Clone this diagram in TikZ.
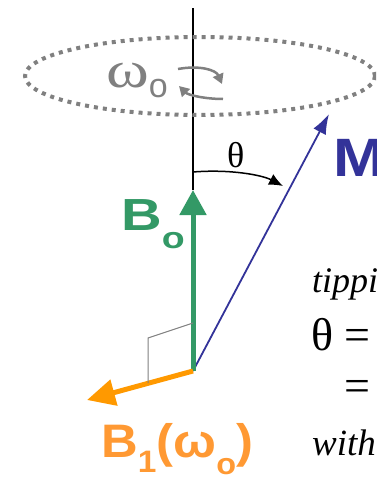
\documentclass[tikz,border=0pt]{standalone}
\usepackage{fontspec}
\setmainfont{Liberation Serif}
\newfontfamily\arialfont{Liberation Sans}
\usetikzlibrary{arrows.meta}
\definecolor{bgreen}{HTML}{339966}
\definecolor{borange}{HTML}{FF9900}
\definecolor{blabel}{HTML}{FF9933}
\definecolor{mblue}{HTML}{333399}
\definecolor{rgray}{HTML}{808080}

\begin{document}
\begin{tikzpicture}[x=1pt,y=-1pt,>=Latex]
  \useasboundingbox (0,0) rectangle (376,477);
  \clip (0,0) rectangle (376,477);
  \coordinate (O) at (193,371);
  \coordinate (top) at (193,8);
  \coordinate (Btip) at (193,190);
  \coordinate (Mtip) at (329,114);
  \coordinate (Ftip) at (87,400);
  % axis and precession cone
  \draw[line width=2pt] (top) -- (Btip);
  \draw[rgray,line width=4pt,dash pattern=on 4pt off 5pt] (200,76) ellipse [x radius=175,y radius=39];
  \coordinate (r1a) at (178,69);
  \coordinate (r1b) at (222,84);
  \coordinate (r2a) at (223,99);
  \coordinate (r2b) at (179,86);
  \draw[rgray,line width=2.5pt,-{Triangle[length=10pt,width=11pt]}] (r1a) .. controls (200,65) and (216,70) .. (r1b);
  \draw[rgray,line width=2.5pt,-{Triangle[length=10pt,width=11pt]}] (r2a) .. controls (205,99) and (188,95) .. (r2b);
  \node[rgray,anchor=base west,inner sep=0] (wlab) at (106,87)
    {\scalebox{1.25}[1]{\fontsize{52}{52}\selectfont ω}\raisebox{-10pt}{\arialfont\fontsize{34}{34}\selectfont o}};
  % tipping angle
  \coordinate (arcS) at (193,172);
  \coordinate (arcE) at (283,186);
  \draw[line width=1.5pt,-{Latex[length=14pt,width=12pt]}] (arcS) .. controls (230,169) and (262,175) .. (arcE);
  \node[anchor=base west,inner sep=0] (th) at (227,167) {\fontsize{36}{36}\selectfont θ};
  % field vectors
  \draw[mblue,line width=1.8pt,-{Latex[length=20pt,width=14pt]}] (O) -- (Mtip);
  \draw[bgreen,line width=5pt,-{Triangle[length=25pt,width=26pt]}] (O) -- (Btip);
  \draw[borange,line width=5pt,-{Triangle[length=28pt,width=26pt]}] (O) -- (Ftip);
  \coordinate (ra1) at (193,323);
  \coordinate (ra2) at (148,383);
  \draw[rgray,line width=1pt] (ra1) -- (148,338) -- (ra2);
  % labels
  \node[mblue,anchor=base west,inner sep=0] (Mlab) at (333,176)
    {\scalebox{1.15}[1]{\arialfont\bfseries\fontsize{54}{54}\selectfont M}};
  \node[bgreen,anchor=base west,inner sep=0] (B0lab) at (121,230)
    {\scalebox{1.25}[1]{\arialfont\bfseries\fontsize{45}{45}\selectfont B\raisebox{-18pt}{\fontsize{30}{30}\selectfont o}}};
  \node[blabel,anchor=base west,inner sep=0] (B1lab) at (101,457)
    {\scalebox{1.08}[1]{\arialfont\bfseries\fontsize{47}{47}\selectfont B\raisebox{-15pt}{\fontsize{31}{31}\selectfont 1}(ω\raisebox{-17pt}{\fontsize{30}{30}\selectfont o})}};
  % text on the right
  \node[anchor=base west,inner sep=0] (t1) at (312,292) {\fontsize{36}{36}\selectfont\itshape tippi};
  \node[anchor=base west,inner sep=0] (t2) at (311,350) {\fontsize{46}{46}\selectfont θ =};
  \node[anchor=base west,inner sep=0] (t3) at (344,401) {\fontsize{46}{46}\selectfont =};
  \node[anchor=base west,inner sep=0] (t4) at (312,455) {\fontsize{37}{37}\selectfont\itshape with};
\end{tikzpicture}
\end{document}
